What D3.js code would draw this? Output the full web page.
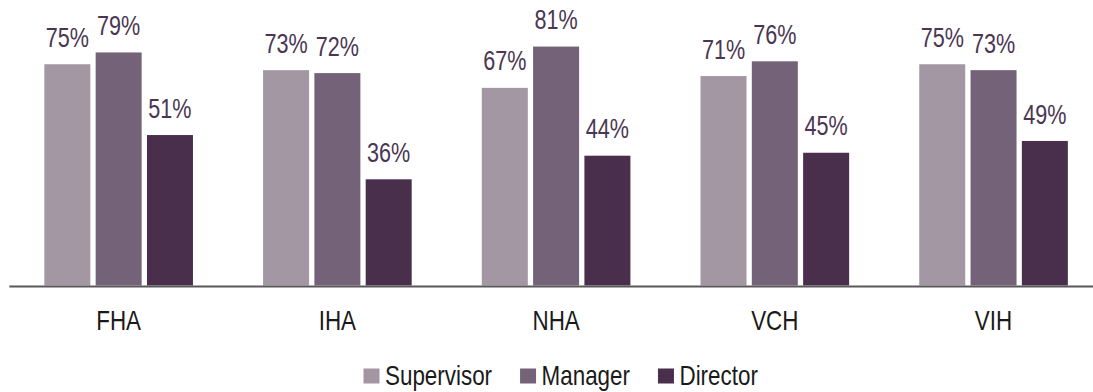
<!DOCTYPE html>
<html>
<head>
<meta charset="utf-8">
<script src="https://cdn.jsdelivr.net/npm/d3@7"></script>
<style>
  html, body { margin: 0; padding: 0; background: #fff; }
  svg { display: block; }
  text { font-family: "Liberation Sans Narrow", "Arial Narrow", "Liberation Sans", Arial, sans-serif; }
</style>
</head>
<body>
<svg id="chart" width="1093" height="392"></svg>
<script>
// Regions on the x axis
const regions = ["FHA", "IHA", "NHA", "VCH", "VIH"];
// Respondent levels (one bar per level in each region)
const levels = ["Supervisor", "Manager", "Director"];
// Percent values per level, in region order
const supervisor = [75, 73, 67, 71, 75];
const manager    = [79, 72, 81, 76, 73];
const director   = [51, 36, 44, 45, 49];
const levelColors = ["#a397a4", "#746378", "#4a2f4d"];

const seriesValues = [supervisor, manager, director];
const rows = regions.map((r, i) => ({
  region: r,
  values: levels.map((l, j) => ({ level: l, value: seriesValues[j][i] }))
}));

const svg = d3.select("#chart");
const W = 1093;
const baseY = 285.5;
const FS = 27;
// Condensed lettering: squeeze the regular face horizontally
const SQ_VAL = 0.8;
const SQ_TXT = 0.83;

const x0 = d3.scaleBand()
  .domain(regions)
  .range([9.35, 9.35 + 5 * 218.7])
  .paddingInner(0.3205)
  .paddingOuter(0.16);

const x1 = d3.scaleBand()
  .domain(levels)
  .range([0, x0.bandwidth()])
  .paddingInner(0.1033)
  .paddingOuter(0);

const y = d3.scaleLinear().domain([0, 100]).range([baseY, baseY - 295]);
const color = d3.scaleOrdinal().domain(levels).range(levelColors);

const groups = svg.append("g")
  .selectAll("g")
  .data(rows)
  .join("g")
  .attr("transform", d => `translate(${x0(d.region)},0)`);

groups.selectAll("rect")
  .data(d => d.values)
  .join("rect")
  .attr("x", d => x1(d.level))
  .attr("y", d => y(d.value))
  .attr("width", x1.bandwidth())
  .attr("height", d => baseY - y(d.value))
  .attr("fill", d => color(d.level));

groups.selectAll("text.val")
  .data(d => d.values)
  .join("text")
  .attr("class", "val")
  .attr("transform", d =>
    `translate(${x1(d.level) + x1.bandwidth() / 2},${y(d.value) - 17.4}) scale(${SQ_VAL},1)`)
  .attr("text-anchor", "middle")
  .attr("font-size", FS)
  .attr("fill", "#4a3652")
  .text(d => d.value + "%");

// Category axis: region names under each group
const xAxis = d3.axisBottom(x0).tickSize(0).tickPadding(0);
const axisG = svg.append("g")
  .attr("transform", `translate(0,${baseY + 1})`)
  .call(xAxis);
axisG.select(".domain").remove();
axisG.selectAll("text")
  .attr("font-size", FS)
  .attr("fill", "#1a1a1a")
  .attr("dy", null)
  .attr("y", null)
  .attr("transform", `translate(0,43) scale(${SQ_TXT},1)`)
  .style("font-family", null);

// Baseline rule
svg.append("line")
  .attr("x1", 9.35).attr("x2", W)
  .attr("y1", baseY + 1).attr("y2", baseY + 1)
  .attr("stroke", "#595959")
  .attr("stroke-width", 2);

// Legend
const legend = svg.append("g").attr("transform", "translate(363.5,0)");
let lx = 0;
levels.forEach(l => {
  const item = legend.append("g").attr("transform", `translate(${lx},0)`);
  item.append("rect")
    .attr("x", 0).attr("y", 368.5)
    .attr("width", 16).attr("height", 15)
    .attr("fill", color(l));
  const t = item.append("text")
    .attr("transform", `translate(21.5,385) scale(${SQ_TXT},1)`)
    .attr("font-size", FS)
    .attr("fill", "#1a1a1a")
    .text(l);
  lx += 21.5 + t.node().getComputedTextLength() * SQ_TXT + 28;
});
</script>
</body>
</html>
